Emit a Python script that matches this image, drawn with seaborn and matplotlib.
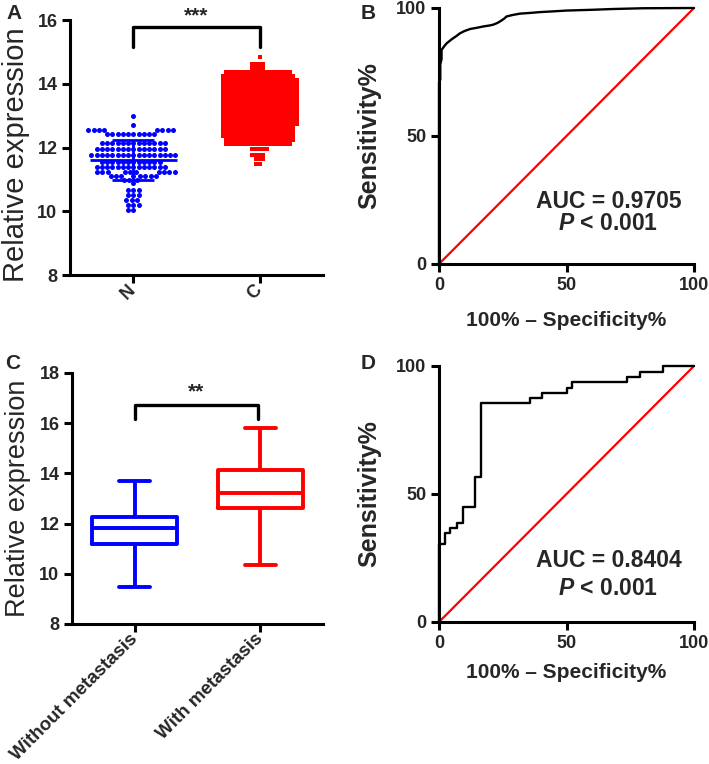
import numpy as np
import pandas as pd
import seaborn as sns
import matplotlib.pyplot as plt

# ---- data ----
# Panel A: scatter rows, value level and number of dots in each row
groups_a = ["N", "C"]
n_levels = [12.99, 12.71, 12.55, 12.42, 12.13, 11.94, 11.76, 11.56, 11.40,
            11.24, 11.11, 10.98, 10.88, 10.67, 10.51, 10.35, 10.20, 10.04]
n_counts = [1, 1, 8, 10, 13, 14, 17, 12, 14, 10, 8, 3, 1, 3, 3, 3, 3, 2]
c_levels = [14.83, 14.62, 14.50, 14.375, 14.25, 14.125, 14.0, 13.875, 13.75,
            13.625, 13.5, 13.375, 13.25, 13.125, 13.0, 12.875, 12.75, 12.625,
            12.5, 12.375, 12.25, 12.125, 11.95, 11.78, 11.63, 11.48]
c_counts = [1, 4, 4, 18, 20, 21, 21, 21, 21, 21, 21, 21, 21, 21, 21, 21, 21,
            20, 20, 20, 19, 18, 5, 4, 3, 2]

# Panel C: box plot five-number summaries
groups_c = ["Without metastasis", "With metastasis"]
box_min = [9.49, 10.35]
box_q1 = [11.18, 12.63]
box_med = [11.82, 13.23]
box_q3 = [12.25, 14.13]
box_max = [13.70, 15.81]

# Panel B: ROC curve (100% - specificity, sensitivity)
fpr_b = [0, 0, 0.5, 0.5, 1.0, 1.0, 2.0, 3.0, 5.0, 6.9, 8.2, 10.0, 12.2, 15.0,
         17.4, 20.0, 21.3, 23.0, 24.0, 25.5, 26.5, 29.0, 31.8, 36.0, 39.6,
         45.0, 50.0, 60.0, 68.0, 80.0, 100.0]
tpr_b = [0, 71, 72, 78, 80, 83.6, 85.0, 86.2, 87.8, 89.1, 90.1, 91.0, 91.8,
         92.3, 92.8, 93.2, 93.5, 94.2, 94.8, 95.8, 96.7, 97.3, 97.8, 98.1,
         98.4, 98.7, 99.0, 99.3, 99.6, 99.9, 100.0]
auc_b = "AUC = 0.9705"

# Panel D: ROC curve, step points
fpr_d = [0, 0, 2.4, 4.3, 6.9, 9.5, 14.1, 16.5, 35.5, 40.3, 50.0, 52.3, 73.7,
         78.8, 88.0, 100.0]
tpr_d = [0, 30.5, 34.6, 36.6, 38.5, 44.8, 56.8, 85.4, 87.5, 89.5, 91.5, 93.6,
         95.6, 97.8, 100.0, 100.0]
auc_d = "AUC = 0.8404"

diag = [0, 100]

BLUE = "#0000FF"
RED = "#FF0000"

sns.set_style("ticks")
plt.rcParams["font.family"] = ["Liberation Sans", "DejaVu Sans"]
plt.rcParams["font.weight"] = "bold"
plt.rcParams["axes.labelweight"] = "bold"
plt.rcParams["mathtext.fontset"] = "custom"
plt.rcParams["mathtext.it"] = "Liberation Sans:italic:bold"
plt.rcParams["mathtext.rm"] = "Liberation Sans:bold"

W, H = 709, 764
fig = plt.figure(figsize=(W / 100, H / 100), dpi=100)


def frame(l, t, r, b):
    return [l / W, 1 - b / H, (r - l) / W, (b - t) / H]


axA = fig.add_axes(frame(70, 20, 323, 275))
axB = fig.add_axes(frame(439, 8, 694, 264))
axC = fig.add_axes(frame(72, 373, 323, 624))
axD = fig.add_axes(frame(439, 366, 694, 622))

for ax in (axA, axB, axC, axD):
    sns.despine(ax=ax)
    for s in ("left", "bottom"):
        ax.spines[s].set_linewidth(2.2)
        ax.spines[s].set_color("black")
    ax.tick_params(direction="out", length=6, width=2.2, labelsize=13,
                   color="black", pad=3)

# ---- A: scatter with mean +/- SD ----
n_vals = np.repeat(n_levels, n_counts)
c_vals = np.repeat(c_levels, c_counts)
df_n = pd.DataFrame({"group": "N", "value": n_vals})
df_c = pd.DataFrame({"group": "C", "value": c_vals})
sns.swarmplot(data=df_n, x="group", y="value", order=groups_a, color=BLUE,
              size=3.6, marker="o", linewidth=0, ax=axA)
sns.swarmplot(data=df_c, x="group", y="value", order=groups_a, color=RED,
              size=2.55, marker="s", linewidth=0, ax=axA)
for i, (vals, col, half) in enumerate([(n_vals, BLUE, 0.345),
                                       (c_vals, RED, 0.3)]):
    m, sd = vals.mean(), vals.std(ddof=1)
    axA.hlines(m, i - half, i + half, color=col, lw=2, zorder=4)
    axA.errorbar(i, m, yerr=sd, color=col, capsize=15, capthick=2,
                 elinewidth=2, zorder=4)
axA.plot([0, 0, 1, 1], [15.16, 15.79, 15.79, 15.16], color="black", lw=2.4,
         clip_on=False)
axA.text(0.5, 16.12, "***", ha="center", va="center", fontsize=15,
         fontweight="bold")
axA.set_xlim(-0.5, 1.5)
axA.set_ylim(8, 16)
axA.set_yticks([8, 10, 12, 14, 16])
axA.set_xlabel("")
axA.set_ylabel("Relative expression", fontsize=21, fontweight="normal")
axA.yaxis.set_label_coords(-0.16, 0.473)
for lab in axA.get_xticklabels():
    lab.set_rotation(45)
    lab.set_ha("right")
    lab.set_va("center")
    lab.set_rotation_mode("anchor")

# ---- C: box plot ----
df_box = pd.DataFrame({
    "group": np.repeat(groups_c, 5),
    "value": [v for k in range(2) for v in
              (box_min[k], box_q1[k], box_med[k], box_q3[k], box_max[k])],
})
sns.boxplot(data=df_box, x="group", y="value", hue="group", order=groups_c,
            palette=[BLUE, RED], fill=False, linewidth=2.8, width=0.68,
            whis=(0, 100), legend=False, capwidths=0.25, ax=axC)
axC.plot([0, 0, 0.98, 0.98], [16.16, 16.72, 16.72, 16.16], color="black",
         lw=2.4, clip_on=False)
axC.text(0.49, 17.25, "**", ha="center", va="center", fontsize=15,
         fontweight="bold")
axC.set_xlim(-0.5, 1.5)
axC.set_ylim(8, 18)
axC.set_yticks([8, 10, 12, 14, 16, 18])
axC.set_xlabel("")
axC.set_ylabel("Relative expression", fontsize=19.5, fontweight="normal")
axC.yaxis.set_label_coords(-0.165, 0.5)
axC.tick_params(axis="x", labelsize=13.5)
for lab in axC.get_xticklabels():
    lab.set_rotation(45)
    lab.set_ha("right")
    lab.set_va("center")
    lab.set_rotation_mode("anchor")

# ---- B and D: ROC curves ----
for ax, fpr, tpr, step, auc, y_auc, y_p, lab_y in (
        (axB, fpr_b, tpr_b, "default", auc_b, 24.3, 16.0, -0.185),
        (axD, fpr_d, tpr_d, "steps-post", auc_d, 24.2, 13.2, -0.16)):
    sns.lineplot(x=diag, y=diag, color=RED, lw=1.6, estimator=None,
                 sort=False, clip_on=False, ax=ax)
    sns.lineplot(x=fpr, y=tpr, color="black", lw=1.7, estimator=None,
                 sort=False, drawstyle=step, clip_on=False, ax=ax)
    ax.set_xlim(0, 100)
    ax.set_ylim(0, 100)
    ax.set_xticks([0, 50, 100])
    ax.set_yticks([0, 50, 100])
    ax.set_xlabel("100% \u2013 Specificity%", fontsize=15)
    ax.set_ylabel("Sensitivity%", fontsize=18)
    ax.xaxis.set_label_coords(0.5, lab_y)
    ax.yaxis.set_label_coords(-0.225, 0.5)
    ax.text(66.7, y_auc, auc, ha="center", va="center", fontsize=16.5,
            fontweight="bold")
    ax.text(66.4, y_p, "$P$ < 0.001", ha="center", va="center",
            fontsize=16.5, fontweight="bold")

for x, y, s in ((6, 4, "A"), (361, 4, "B"), (5, 354, "C"), (361, 354, "D")):
    fig.text(x / W, 1 - y / H, s, ha="left", va="top", fontsize=15,
             fontweight="bold")

fig.savefig("out.png", dpi=100)
